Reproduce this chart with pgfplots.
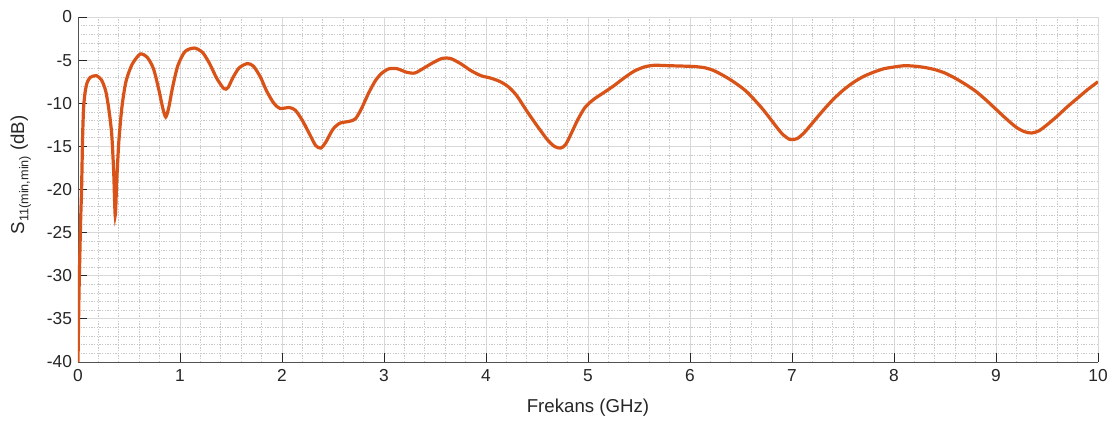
\documentclass[border=0pt]{standalone}
\usepackage{pgfplots}
\pgfplotsset{compat=1.18}
\usepackage{fontspec}
\setmainfont{Liberation Sans}
\definecolor{matorange}{rgb}{0.85,0.325,0.098}
\definecolor{axgray}{rgb}{0.15,0.15,0.15}
\pgfplotstableread{
x y
0 -40
0.01 -32
0.025 -24
0.035 -20
0.045 -14
0.055 -10.5
0.07 -8.7
0.09 -7.6
0.12 -7.0
0.18 -6.8
0.23 -7.3
0.27 -8.5
0.30 -10.5
0.33 -13.5
0.35 -18
0.365 -23.0
0.38 -19
0.40 -14.5
0.43 -10.5
0.47 -7.5
0.53 -5.5
0.61 -4.3
0.68 -4.7
0.74 -6.0
0.79 -8.3
0.83 -10.5
0.86 -11.6
0.89 -10.5
0.93 -8.0
0.98 -5.6
1.05 -4.0
1.14 -3.6
1.22 -4.1
1.29 -5.4
1.36 -7.1
1.43 -8.3
1.47 -8.2
1.52 -7.0
1.58 -5.9
1.66 -5.4
1.72 -5.7
1.79 -7.0
1.85 -8.6
1.92 -10.0
1.98 -10.6
2.07 -10.5
2.13 -10.8
2.20 -12.0
2.28 -13.8
2.33 -14.9
2.38 -15.2
2.43 -14.5
2.50 -13.0
2.57 -12.3
2.66 -12.1
2.72 -11.8
2.78 -10.6
2.85 -8.8
2.92 -7.3
2.98 -6.5
3.05 -6.0
3.13 -6.0
3.22 -6.4
3.30 -6.5
3.38 -6.0
3.48 -5.3
3.57 -4.8
3.65 -4.8
3.75 -5.4
3.85 -6.2
3.95 -6.8
4.05 -7.1
4.14 -7.5
4.22 -8.1
4.30 -9.1
4.40 -10.9
4.50 -12.6
4.60 -14.2
4.67 -15.0
4.73 -15.2
4.78 -14.8
4.84 -13.4
4.90 -11.9
4.97 -10.5
5.05 -9.6
5.15 -8.8
5.25 -8.0
5.35 -7.1
5.45 -6.3
5.55 -5.8
5.65 -5.6
5.80 -5.65
5.95 -5.7
6.05 -5.75
6.15 -5.9
6.25 -6.3
6.40 -7.3
6.55 -8.6
6.70 -10.5
6.80 -12.0
6.90 -13.5
6.98 -14.2
7.05 -14.1
7.12 -13.4
7.20 -12.3
7.30 -10.9
7.40 -9.6
7.50 -8.5
7.60 -7.6
7.70 -6.9
7.80 -6.4
7.90 -6.0
8.00 -5.8
8.10 -5.65
8.20 -5.7
8.30 -5.85
8.40 -6.1
8.50 -6.5
8.60 -7.1
8.70 -7.8
8.80 -8.6
8.90 -9.6
9.00 -10.7
9.10 -11.8
9.20 -12.8
9.28 -13.3
9.35 -13.45
9.42 -13.2
9.50 -12.5
9.60 -11.5
9.70 -10.4
9.80 -9.4
9.90 -8.4
10.0 -7.5
}\sone
\begin{document}
\begin{tikzpicture}
\begin{axis}[
  scale only axis,
  width=765pt, height=258.75pt,
  xmin=0, xmax=10, ymin=-40, ymax=0,
  xtick={0,1,...,10}, ytick={-40,-35,...,0},
  minor x tick num=4, minor y tick num=4,
  grid=both,
  major grid style={solid, color=black!15, line width=0.6pt},
  minor grid style={dash pattern=on 1pt off 1pt, color=black!22, line width=0.5pt},
  axis x line*=bottom, axis y line*=left,
  axis line style={color=axgray!80, line width=0.7pt},
  tick align=inside,
  major tick length=6.5pt, minor tick length=0pt,
  tick style={color=axgray, line width=0.6pt},
  every tick label/.append style={font=\fontsize{13}{15}\selectfont, color=axgray},
  /pgf/number format/assume math mode=true,
  xticklabel style={yshift=-2pt},
  yticklabel style={xshift=-1pt},
  xlabel={Frekans (GHz)},
  ylabel={S\raisebox{-0.45ex}{\fontsize{9.5}{11}\selectfont 11(min,min)} (dB)},
  label style={font=\fontsize{14}{16}\selectfont, color=axgray},
  xlabel style={yshift=-6.5pt},
  ylabel style={yshift=5pt, xshift=11pt},
  clip=true,
]
\addplot[color=matorange, line width=2.4pt, smooth, tension=0.45] table {\sone};
\coordinate (sw) at (rel axis cs:0,0);
\coordinate (ne) at (rel axis cs:1,1);
\end{axis}
\pgfresetboundingbox
\useasboundingbox ([xshift=-58.5pt,yshift=-46.5pt]sw) rectangle ([xshift=14.25pt,yshift=12.75pt]ne);
\end{tikzpicture}
\end{document}
